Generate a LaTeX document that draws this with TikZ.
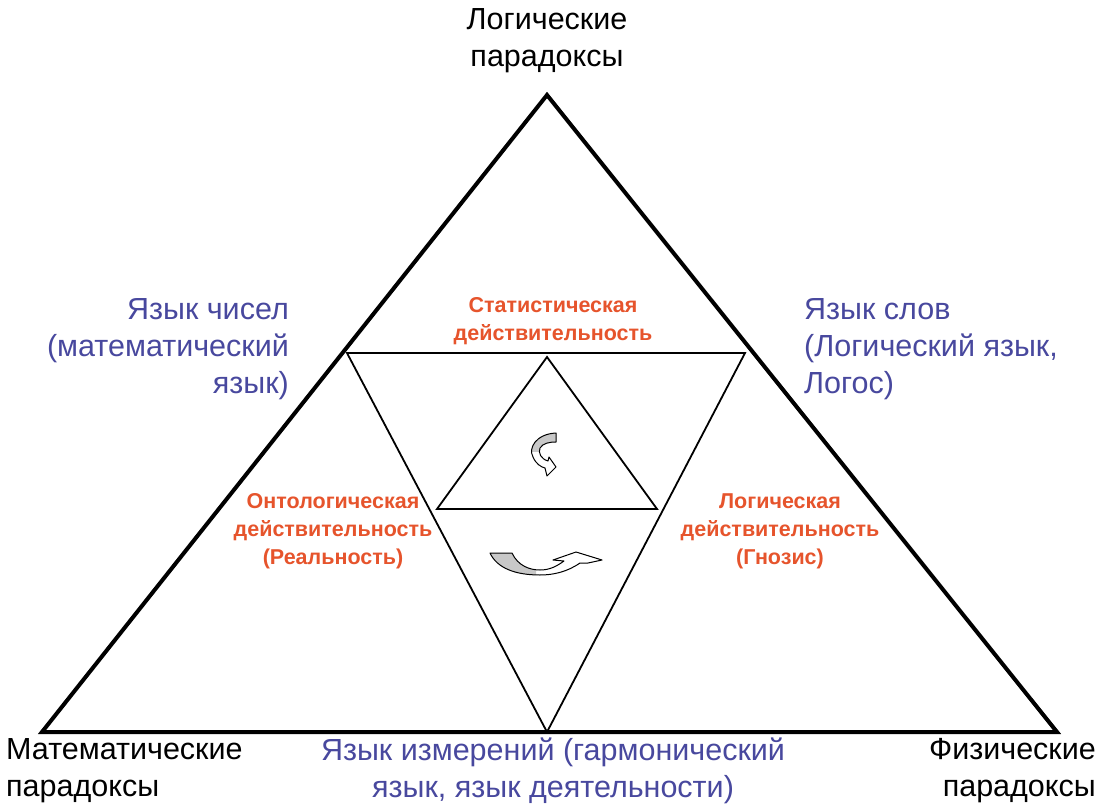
\documentclass[tikz,border=0pt]{standalone}
\usepackage{fontspec}
\setmainfont{Liberation Sans}
\definecolor{redtxt}{RGB}{230,84,44}
\definecolor{bluetxt}{RGB}{72,72,158}
\definecolor{ribbon}{RGB}{200,200,200}
\tikzset{
  bigtxt/.style={font=\fontsize{30.5}{37}\selectfont, inner sep=0pt},
  redlbl/.style={font=\fontsize{21.5}{28}\selectfont\bfseries, text=redtxt, align=center, inner sep=0pt},
  bluelbl/.style={bigtxt, text=bluetxt},
}
\newcommand\upperarrow{(556,433) .. controls (536,434) and (528,448) .. (533,457)
  .. controls (536,464) and (541,467) .. (545,468) -- (547,476) -- (556,467)
  -- (549,457) -- (548,461) .. controls (541,459) and (538,453) .. (540,448)
  .. controls (543,443) and (550,442) .. (556,442) -- cycle}
\newcommand\lowerarrow{(490,553) -- (512,553) .. controls (518,566) and (530,570) .. (540,570)
  .. controls (550,570) and (557,566) .. (564,561) -- (553,560) -- (576,552)
  -- (602,560) -- (588,563) -- (580,563) .. controls (567,572) and (553,575) .. (540,575)
  .. controls (515,575) and (497,568) .. cycle}

\begin{document}
\begin{tikzpicture}[x=1pt, y=-1pt]
  \useasboundingbox (0,0) rectangle (1102,805);
  % outer triangle
  \coordinate (top) at (547,95);
  \coordinate (bl) at (42,732);
  \coordinate (br) at (1057,732);
  \draw[line width=4pt, line join=miter] (top) -- (bl) -- (br) -- cycle;
  % inverted triangle
  \coordinate (il) at (347,353);
  \coordinate (ir) at (745,353);
  \coordinate (ib) at (547,732);
  \draw[line width=1.8pt] (il) -- (ir) -- (ib) -- cycle;
  % inner triangle
  \coordinate (st) at (547,357);
  \coordinate (sl) at (437,509);
  \coordinate (sr) at (657,509);
  \draw[line width=1.8pt] (st) -- (sl) -- (sr) -- cycle;
  % curved arrows
  \begin{scope}
    \clip (520,425) rectangle (560,451);
    \fill[ribbon] \upperarrow;
  \end{scope}
  \draw[line width=1pt, line join=round] \upperarrow;
  \begin{scope}
    \clip (480,545) rectangle (536,580);
    \fill[ribbon] \lowerarrow;
  \end{scope}
  \draw[line width=1pt, line join=round] \lowerarrow;
  % labels
  \node[bigtxt, align=center] (logpar) at (547,41) {Логические\\парадоксы};
  \node[bigtxt, align=left, anchor=west] (matpar) at (6,771) {Математические\\парадоксы};
  \node[bigtxt, align=right, anchor=east] (fizpar) at (1096,771) {Физические\\парадоксы};
  \node[bluelbl, align=center] (izmer) at (553,771) {Язык измерений (гармонический\\язык, язык деятельности)};
  \node[bluelbl, align=right, anchor=east] (chisel) at (289,349) {Язык чисел\\(математический\\язык)};
  \node[bluelbl, align=left, anchor=west] (slov) at (804,349) {Язык слов\\(Логический язык,\\Логос)};
  \node[redlbl] (stat) at (553,321) {Статистическая\\действительность};
  \node[redlbl] (ontol) at (333,531) {Онтологическая\\действительность\\(Реальность)};
  \node[redlbl] (gnoz) at (780,531) {Логическая\\действительность\\(Гнозис)};
\end{tikzpicture}
\end{document}
